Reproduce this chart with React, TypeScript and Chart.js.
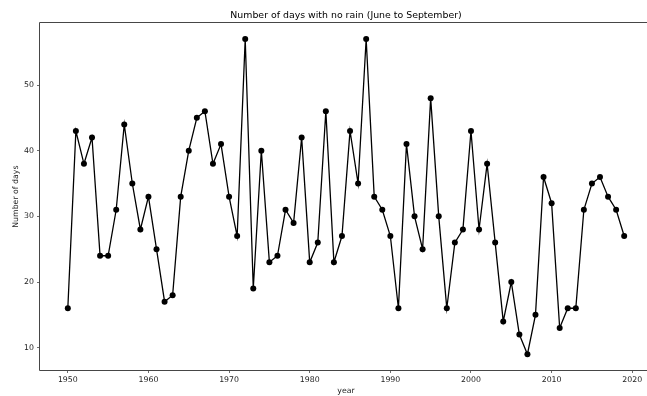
import React, { useEffect, useRef } from "react";
import { Chart, registerables } from "chart.js";

Chart.register(...registerables);

const years = [
  1950, 1951, 1952, 1953, 1954, 1955, 1956, 1957, 1958, 1959,
  1960, 1961, 1962, 1963, 1964, 1965, 1966, 1967, 1968, 1969,
  1970, 1971, 1972, 1973, 1974, 1975, 1976, 1977, 1978, 1979,
  1980, 1981, 1982, 1983, 1984, 1985, 1986, 1987, 1988, 1989,
  1990, 1991, 1992, 1993, 1994, 1995, 1996, 1997, 1998, 1999,
  2000, 2001, 2002, 2003, 2004, 2005, 2006, 2007, 2008, 2009,
  2010, 2011, 2012, 2013, 2014, 2015, 2016, 2017, 2018, 2019,
];

const dryDays = [
  16, 43, 38, 42, 24, 24, 31, 44, 35, 28,
  33, 25, 17, 18, 33, 40, 45, 46, 38, 41,
  33, 27, 57, 19, 40, 23, 24, 31, 29, 42,
  23, 26, 46, 23, 27, 43, 35, 57, 33, 31,
  27, 16, 41, 30, 25, 48, 30, 16, 26, 28,
  43, 28, 38, 26, 14, 20, 12, 9, 15, 36,
  32, 13, 16, 16, 31, 35, 36, 33, 31, 27,
];

const xTickValues = [1950, 1960, 1970, 1980, 1990, 2000, 2010, 2020];
const yTickValues = [10, 20, 30, 40, 50];

const FONT = "'DejaVu Sans', sans-serif";

export default function App() {
  const canvasRef = useRef<HTMLCanvasElement | null>(null);

  useEffect(() => {
    document.body.style.margin = "0";
    document.body.style.overflow = "hidden";
    const canvas = canvasRef.current;
    if (!canvas) return;

    const framePlugin = {
      id: "frame",
      afterDraw(chart: any) {
        const { ctx, chartArea } = chart;
        ctx.save();
        ctx.strokeStyle = "rgb(70,70,70)";
        ctx.lineWidth = 1;
        const l = Math.round(chartArea.left) - 0.5;
        const t = Math.round(chartArea.top) - 0.5;
        const b = Math.round(chartArea.bottom) + 0.5;
        const r = Math.round(chartArea.right) + 0.5;
        ctx.beginPath();
        ctx.moveTo(r, t);
        ctx.lineTo(l, t);
        ctx.lineTo(l, b);
        ctx.lineTo(r, b);
        ctx.stroke();
        ctx.restore();
      },
    };

    const chart = new Chart(canvas, {
      type: "line",
      data: {
        datasets: [
          {
            data: years.map((y, i) => ({ x: y, y: dryDays[i] })),
            borderColor: "#000",
            backgroundColor: "#000",
            borderWidth: 1.3,
            pointRadius: 3,
            pointHoverRadius: 3,
            pointBackgroundColor: "#000",
            pointBorderWidth: 0,
            tension: 0,
            fill: false,
          },
        ],
      },
      options: {
        animation: false,
        responsive: false,
        events: [],
        layout: { padding: { left: 0, right: 8, top: 0, bottom: 0 } },
        plugins: {
          legend: { display: false },
          tooltip: { enabled: false },
          title: {
            display: true,
            text: "Number of days with no rain (June to September)",
            fullSize: false,
            color: "#000",
            font: { family: FONT, size: 9.4, weight: "normal" },
            padding: { top: 9.5, bottom: 2.5 },
          },
        },
        scales: {
          x: {
            type: "linear",
            min: 1946.55,
            max: 2022.45,
            afterBuildTicks: (scale: any) => {
              scale.ticks = xTickValues.map((v) => ({ value: v }));
            },
            afterFit: (scale: any) => {
              scale.height = 26;
            },
            grid: {
              display: true,
              drawOnChartArea: false,
              drawTicks: true,
              tickLength: 3,
              color: "rgb(70,70,70)",
              lineWidth: 0.8,
            },
            border: { display: false },
            ticks: {
              color: "#222",
              font: { family: FONT, size: 7.8 },
              padding: 2,
              maxRotation: 0,
              autoSkip: false,
              callback: (v: any) => String(v),
            },
            title: {
              display: true,
              text: "year",
              color: "#222",
              font: { family: FONT, size: 7.8 },
              padding: { top: 0, bottom: 0 },
            },
          },
          y: {
            type: "linear",
            min: 6.6,
            max: 59.4,
            afterBuildTicks: (scale: any) => {
              scale.ticks = yTickValues.map((v) => ({ value: v }));
            },
            afterFit: (scale: any) => {
              scale.width = 40;
            },
            grid: {
              display: true,
              drawOnChartArea: false,
              drawTicks: true,
              tickLength: 3,
              color: "rgb(70,70,70)",
              lineWidth: 0.8,
            },
            border: { display: false },
            ticks: {
              color: "#222",
              font: { family: FONT, size: 7.8 },
              padding: 3,
              autoSkip: false,
              callback: (v: any) => String(v),
            },
            title: {
              display: true,
              text: "Number of days",
              color: "#222",
              font: { family: FONT, size: 7.8 },
              padding: { top: 11, bottom: 0 },
            },
          },
        },
      },
      plugins: [framePlugin],
    } as any);

    return () => {
      chart.destroy();
    };
  }, []);

  return (
    <div style={{ position: "absolute", left: 0, top: 0, width: 660, height: 396, overflow: "hidden" }}>
      <canvas ref={canvasRef} width={660} height={396} style={{ display: "block" }} />
    </div>
  );
}
